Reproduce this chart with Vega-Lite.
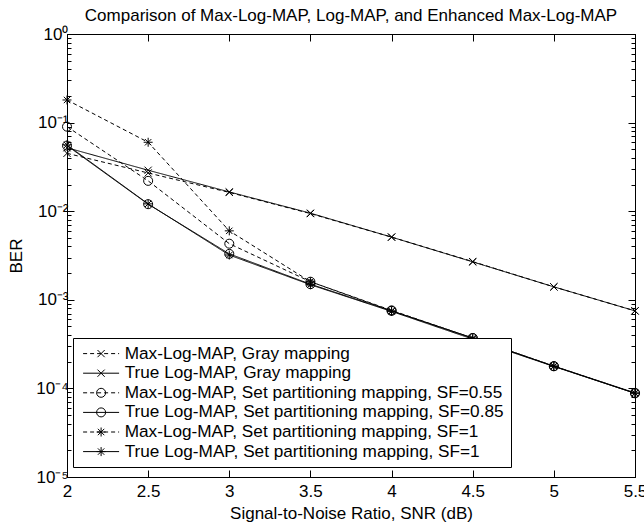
{
  "$schema": "https://vega.github.io/schema/vega-lite/v6.json",
  "width": 568,
  "height": 443,
  "autosize": {"type": "none"},
  "padding": {"left": 67, "top": 34, "right": 9, "bottom": 49},
  "background": "white",
  "title": {"text": "Comparison of Max-Log-MAP, Log-MAP, and Enhanced Max-Log-MAP", "font": "Liberation Sans", "fontSize": 17, "fontWeight": "normal", "anchor": "middle", "offset": 0, "color": "black"},
  "config": {
    "view": {"stroke": "black", "strokeWidth": 1},
    "font": "Liberation Sans",
    "axis": {"grid": false, "domainColor": "black", "tickColor": "black", "labelColor": "black", "titleColor": "black", "labelFont": "Liberation Sans", "labelFontSize": 17, "titleFont": "Liberation Sans", "titleFontSize": 17, "titleFontWeight": "normal", "domainWidth": 1, "tickWidth": 1, "labelOverlap": false, "labelFlush": false}
  },
  "data": {"values": [
    {"series": "Max-Log-MAP, Gray mapping", "snr": 2, "ber": 0.045},
    {"series": "Max-Log-MAP, Gray mapping", "snr": 2.5, "ber": 0.027},
    {"series": "Max-Log-MAP, Gray mapping", "snr": 3, "ber": 0.0163},
    {"series": "Max-Log-MAP, Gray mapping", "snr": 3.5, "ber": 0.0094},
    {"series": "Max-Log-MAP, Gray mapping", "snr": 4, "ber": 0.0051},
    {"series": "Max-Log-MAP, Gray mapping", "snr": 4.5, "ber": 0.0027},
    {"series": "Max-Log-MAP, Gray mapping", "snr": 5, "ber": 0.0014},
    {"series": "Max-Log-MAP, Gray mapping", "snr": 5.5, "ber": 0.00075},
    {"series": "True Log-MAP, Gray mapping", "snr": 2, "ber": 0.052},
    {"series": "True Log-MAP, Gray mapping", "snr": 2.5, "ber": 0.029},
    {"series": "True Log-MAP, Gray mapping", "snr": 3, "ber": 0.0165},
    {"series": "True Log-MAP, Gray mapping", "snr": 3.5, "ber": 0.0095},
    {"series": "True Log-MAP, Gray mapping", "snr": 4, "ber": 0.0051},
    {"series": "True Log-MAP, Gray mapping", "snr": 4.5, "ber": 0.00268},
    {"series": "True Log-MAP, Gray mapping", "snr": 5, "ber": 0.0014},
    {"series": "True Log-MAP, Gray mapping", "snr": 5.5, "ber": 0.00075},
    {"series": "Max-Log-MAP, Set partitioning mapping, SF=0.55", "snr": 2, "ber": 0.09},
    {"series": "Max-Log-MAP, Set partitioning mapping, SF=0.55", "snr": 2.5, "ber": 0.022},
    {"series": "Max-Log-MAP, Set partitioning mapping, SF=0.55", "snr": 3, "ber": 0.0043},
    {"series": "Max-Log-MAP, Set partitioning mapping, SF=0.55", "snr": 3.5, "ber": 0.0016},
    {"series": "Max-Log-MAP, Set partitioning mapping, SF=0.55", "snr": 4, "ber": 0.00076},
    {"series": "Max-Log-MAP, Set partitioning mapping, SF=0.55", "snr": 4.5, "ber": 0.00037},
    {"series": "Max-Log-MAP, Set partitioning mapping, SF=0.55", "snr": 5, "ber": 0.000178},
    {"series": "Max-Log-MAP, Set partitioning mapping, SF=0.55", "snr": 5.5, "ber": 0.000089},
    {"series": "True Log-MAP, Set partitioning mapping, SF=0.85", "snr": 2, "ber": 0.055},
    {"series": "True Log-MAP, Set partitioning mapping, SF=0.85", "snr": 2.5, "ber": 0.012},
    {"series": "True Log-MAP, Set partitioning mapping, SF=0.85", "snr": 3, "ber": 0.0033},
    {"series": "True Log-MAP, Set partitioning mapping, SF=0.85", "snr": 3.5, "ber": 0.0015},
    {"series": "True Log-MAP, Set partitioning mapping, SF=0.85", "snr": 4, "ber": 0.00075},
    {"series": "True Log-MAP, Set partitioning mapping, SF=0.85", "snr": 4.5, "ber": 0.00037},
    {"series": "True Log-MAP, Set partitioning mapping, SF=0.85", "snr": 5, "ber": 0.000178},
    {"series": "True Log-MAP, Set partitioning mapping, SF=0.85", "snr": 5.5, "ber": 0.000088},
    {"series": "Max-Log-MAP, Set partitioning mapping, SF=1", "snr": 2, "ber": 0.18},
    {"series": "Max-Log-MAP, Set partitioning mapping, SF=1", "snr": 2.5, "ber": 0.06},
    {"series": "Max-Log-MAP, Set partitioning mapping, SF=1", "snr": 3, "ber": 0.006},
    {"series": "Max-Log-MAP, Set partitioning mapping, SF=1", "snr": 3.5, "ber": 0.0016},
    {"series": "Max-Log-MAP, Set partitioning mapping, SF=1", "snr": 4, "ber": 0.00075},
    {"series": "Max-Log-MAP, Set partitioning mapping, SF=1", "snr": 4.5, "ber": 0.00037},
    {"series": "Max-Log-MAP, Set partitioning mapping, SF=1", "snr": 5, "ber": 0.000179},
    {"series": "Max-Log-MAP, Set partitioning mapping, SF=1", "snr": 5.5, "ber": 0.000089},
    {"series": "True Log-MAP, Set partitioning mapping, SF=1", "snr": 2, "ber": 0.056},
    {"series": "True Log-MAP, Set partitioning mapping, SF=1", "snr": 2.5, "ber": 0.0121},
    {"series": "True Log-MAP, Set partitioning mapping, SF=1", "snr": 3, "ber": 0.0032},
    {"series": "True Log-MAP, Set partitioning mapping, SF=1", "snr": 3.5, "ber": 0.00148},
    {"series": "True Log-MAP, Set partitioning mapping, SF=1", "snr": 4, "ber": 0.00074},
    {"series": "True Log-MAP, Set partitioning mapping, SF=1", "snr": 4.5, "ber": 0.00036},
    {"series": "True Log-MAP, Set partitioning mapping, SF=1", "snr": 5, "ber": 0.000177},
    {"series": "True Log-MAP, Set partitioning mapping, SF=1", "snr": 5.5, "ber": 0.000088}
  ]},
  "layer": [
    {
      "mark": {"type": "line", "strokeWidth": 1, "color": "black"},
      "encoding": {
        "x": {"field": "snr", "type": "quantitative", "scale": {"domain": [2, 5.5], "nice": false, "zero": false},
          "axis": {"orient": "bottom", "values": [2, 2.5, 3, 3.5, 4, 4.5, 5, 5.5], "format": "~g", "tickSize": -7, "labelPadding": 13, "title": "Signal-to-Noise Ratio, SNR (dB)", "titlePadding": 6}},
        "y": {"field": "ber", "type": "quantitative", "scale": {"type": "log", "domain": [0.00001, 1], "nice": false},
          "axis": {"orient": "left",
            "values": [0.00001, 0.00002, 0.00003, 0.00004, 0.00005, 0.00006, 0.00007, 0.00008, 0.00009, 0.0001, 0.0002, 0.0003, 0.0004, 0.0005, 0.0006, 0.0007, 0.0008, 0.0009, 0.001, 0.002, 0.003, 0.004, 0.005, 0.006, 0.007, 0.008, 0.009, 0.01, 0.02, 0.03, 0.04, 0.05, 0.06, 0.07, 0.08, 0.09, 0.1, 0.2, 0.3, 0.4, 0.5, 0.6, 0.7, 0.8, 0.9, 1],
            "labelExpr": "abs(log(datum.value)/LN10 - round(log(datum.value)/LN10)) < 0.001 ? '10' + ['⁻⁵','⁻⁴','⁻³','⁻²','⁻¹','⁰'][round(log(datum.value)/LN10)+5] : ''",
            "tickSize": {"condition": {"test": "abs(log(datum.value)/LN10 - round(log(datum.value)/LN10)) < 0.001", "value": -7}, "value": -4},
            "labelPadding": 6, "title": "BER", "titlePadding": 10}},
        "strokeDash": {"field": "series", "type": "nominal",
          "scale": {"domain": ["Max-Log-MAP, Gray mapping", "True Log-MAP, Gray mapping", "Max-Log-MAP, Set partitioning mapping, SF=0.55", "True Log-MAP, Set partitioning mapping, SF=0.85", "Max-Log-MAP, Set partitioning mapping, SF=1", "True Log-MAP, Set partitioning mapping, SF=1"],
            "range": [[4, 3], [1, 0], [4, 3], [1, 0], [4, 3], [1, 0]]},
          "legend": null}
      }
    },
    {
      "mark": {"type": "point", "filled": false, "stroke": "black", "strokeWidth": 1, "size": 81, "opacity": 1},
      "encoding": {
        "x": {"field": "snr", "type": "quantitative",
          "axis": {"orient": "top", "values": [2, 2.5, 3, 3.5, 4, 4.5, 5, 5.5], "labels": false, "tickSize": -7, "title": null}},
        "y": {"field": "ber", "type": "quantitative",
          "axis": {"orient": "right",
            "values": [0.00001, 0.00002, 0.00003, 0.00004, 0.00005, 0.00006, 0.00007, 0.00008, 0.00009, 0.0001, 0.0002, 0.0003, 0.0004, 0.0005, 0.0006, 0.0007, 0.0008, 0.0009, 0.001, 0.002, 0.003, 0.004, 0.005, 0.006, 0.007, 0.008, 0.009, 0.01, 0.02, 0.03, 0.04, 0.05, 0.06, 0.07, 0.08, 0.09, 0.1, 0.2, 0.3, 0.4, 0.5, 0.6, 0.7, 0.8, 0.9, 1],
            "labels": false,
            "tickSize": {"condition": {"test": "abs(log(datum.value)/LN10 - round(log(datum.value)/LN10)) < 0.001", "value": -7}, "value": -4},
            "title": null}},
        "shape": {"field": "series", "type": "nominal",
          "scale": {"domain": ["Max-Log-MAP, Gray mapping", "True Log-MAP, Gray mapping", "Max-Log-MAP, Set partitioning mapping, SF=0.55", "True Log-MAP, Set partitioning mapping, SF=0.85", "Max-Log-MAP, Set partitioning mapping, SF=1", "True Log-MAP, Set partitioning mapping, SF=1"],
            "range": ["M-0.8,-0.8L0.8,0.8M-0.8,0.8L0.8,-0.8", "M-0.8,-0.8L0.8,0.8M-0.8,0.8L0.8,-0.8", "circle", "circle", "M-1,0L1,0M0,-1L0,1M-0.71,-0.71L0.71,0.71M-0.71,0.71L0.71,-0.71", "M-1,0L1,0M0,-1L0,1M-0.71,-0.71L0.71,0.71M-0.71,0.71L0.71,-0.71"]},
          "legend": null}
      }
    },
    {
      "transform": [{"filter": "false"}],
      "mark": {"type": "point", "filled": false, "stroke": "black", "strokeWidth": 1, "size": 81, "opacity": 1},
      "encoding": {
        "shape": {"field": "series", "type": "nominal",
          "scale": {"domain": ["Max-Log-MAP, Gray mapping", "True Log-MAP, Gray mapping", "Max-Log-MAP, Set partitioning mapping, SF=0.55", "True Log-MAP, Set partitioning mapping, SF=0.85", "Max-Log-MAP, Set partitioning mapping, SF=1", "True Log-MAP, Set partitioning mapping, SF=1"],
            "range": [
              "M-4,0L-3.11,0M-2.44,0L-1.56,0M-0.89,0L0,0M0.67,0L1.56,0M2.22,0L3.11,0M3.78,0L4,0M-0.8,-0.8L0.8,0.8M-0.8,0.8L0.8,-0.8",
              "M-4,0L4,0M-0.8,-0.8L0.8,0.8M-0.8,0.8L0.8,-0.8",
              "M-4,0L-3.11,0M-2.44,0L-1.56,0M-0.89,0L0,0M0.67,0L1.56,0M2.22,0L3.11,0M3.78,0L4,0M1,0L0.924,0.383L0.707,0.707L0.383,0.924L0,1L-0.383,0.924L-0.707,0.707L-0.924,0.383L-1,0L-0.924,-0.383L-0.707,-0.707L-0.383,-0.924L0,-1L0.383,-0.924L0.707,-0.707L0.924,-0.383Z",
              "M-4,0L4,0M1,0L0.924,0.383L0.707,0.707L0.383,0.924L0,1L-0.383,0.924L-0.707,0.707L-0.924,0.383L-1,0L-0.924,-0.383L-0.707,-0.707L-0.383,-0.924L0,-1L0.383,-0.924L0.707,-0.707L0.924,-0.383Z",
              "M-4,0L-3.11,0M-2.44,0L-1.56,0M-0.89,0L0,0M0.67,0L1.56,0M2.22,0L3.11,0M3.78,0L4,0M-1,0L1,0M0,-1L0,1M-0.71,-0.71L0.71,0.71M-0.71,0.71L0.71,-0.71",
              "M-4,0L4,0M-1,0L1,0M0,-1L0,1M-0.71,-0.71L0.71,0.71M-0.71,0.71L0.71,-0.71"]},
          "legend": {"orient": "none", "legendX": 6, "legendY": 304, "title": null, "strokeColor": "black", "fillColor": "white", "padding": 7,
            "labelFont": "Liberation Sans", "labelFontSize": 17.2, "labelColor": "black", "labelLimit": 0,
            "symbolSize": 81, "symbolStrokeColor": "black", "symbolStrokeWidth": 1, "symbolFillColor": "transparent", "symbolOpacity": 1,
            "symbolOffset": 12.5, "labelOffset": 15, "rowPadding": 1.6}}
      }
    }
  ],
  "resolve": {"axis": {"x": "independent", "y": "independent"}, "legend": {"strokeDash": "independent", "shape": "independent"}, "scale": {"shape": "independent"}}
}
